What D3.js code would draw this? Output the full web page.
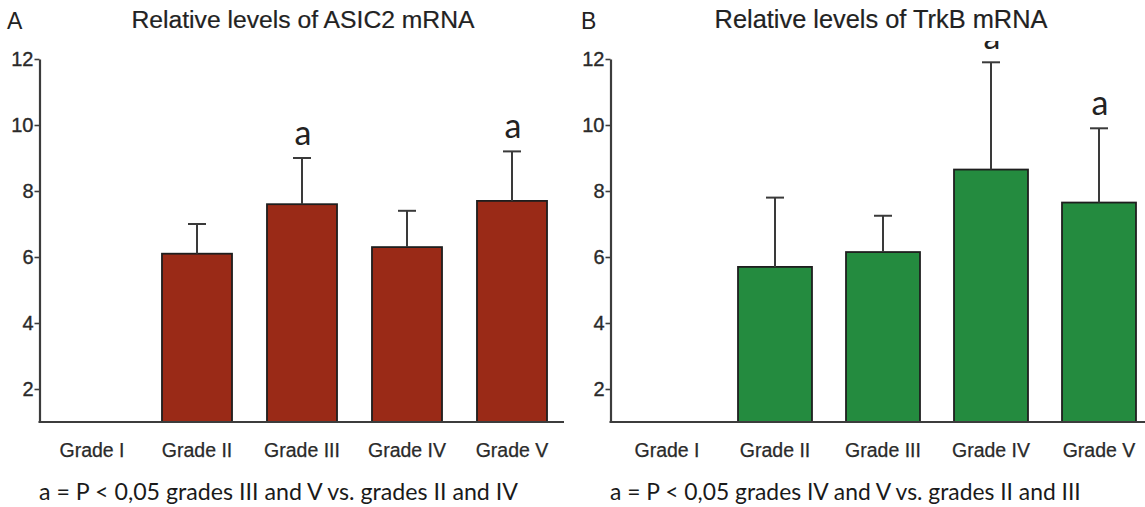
<!DOCTYPE html>
<html>
<head>
<meta charset="utf-8">
<script src="https://cdn.jsdelivr.net/npm/d3@7/dist/d3.min.js"></script>
<style>
  html, body { margin: 0; padding: 0; background: #fff; }
  svg { display: block; }
</style>
</head>
<body>
<svg id="chart" width="1145" height="507"></svg>
<script>
// ---- data ----
const categories = ["Grade I", "Grade II", "Grade III", "Grade IV", "Grade V"];
const yTicks = [2, 4, 6, 8, 10, 12];

const asic2Mean = [null, 6.1, 7.6, 6.3, 7.7];
const asic2Err  = [null, 0.9, 1.4, 1.1, 1.5];
const asic2Sig  = ["", "", "a", "", "a"];

const trkbMean = [null, 5.7, 6.15, 8.65, 7.65];
const trkbErr  = [null, 2.1, 1.1, 3.25, 2.25];
const trkbSig  = ["", "", "", "a", "a"];

const panelLetters = ["A", "B"];
const titles = ["Relative levels of ASIC2 mRNA", "Relative levels of TrkB mRNA"];
const footnotes = [
  "a = P < 0,05 grades III and V vs. grades II and IV",
  "a = P < 0,05 grades IV and V vs. grades II and III"
];

// ---- layout ----
const svg = d3.select("#chart");
const y = d3.scaleLinear().domain([1, 12]).range([422, 59]);

const panels = [
  { mean: asic2Mean, err: asic2Err, sig: asic2Sig, fill: "#9a2a17",
    axisX: 39.5, range: [39.5, 564.5], pad: 0.333, axisEnd: 564,
    letterX: 7, titleX: 303, titleW: 343, footX: 39, footW: 479, clipTop: null },
  { mean: trkbMean, err: trkbErr, sig: trkbSig, fill: "#248b3f",
    axisX: 610.5, range: [613, 1153], pad: 0.315, axisEnd: 1145,
    letterX: 581, titleX: 881, titleW: 333, footX: 610, footW: 471, clipTop: 41 }
];

const defs = svg.append("defs");

function fitText(sel, width) {
  const node = sel.node();
  const fs = parseFloat(sel.attr("font-size"));
  const w = node.getComputedTextLength();
  if (w > 0) sel.attr("font-size", (fs * width / w).toFixed(2));
}

panels.forEach((p, i) => {
  const g = svg.append("g");
  const x = d3.scaleBand().domain(categories).range(p.range).paddingInner(p.pad).paddingOuter(p.pad / 2);

  const data = categories.map((c, k) => ({ c, m: p.mean[k], e: p.err[k], s: p.sig[k] }))
                         .filter(d => d.m != null);

  // bars
  g.selectAll("rect.bar").data(data).join("rect")
    .attr("class", "bar")
    .attr("x", d => x(d.c))
    .attr("width", x.bandwidth())
    .attr("y", d => y(d.m))
    .attr("height", d => y(1) - y(d.m))
    .attr("fill", p.fill)
    .attr("stroke", "#1e1e1e")
    .attr("stroke-width", 1.8);

  // error bars
  const cap = 9;
  g.selectAll("line.err").data(data).join("line")
    .attr("class", "err")
    .attr("x1", d => x(d.c) + x.bandwidth() / 2)
    .attr("x2", d => x(d.c) + x.bandwidth() / 2)
    .attr("y1", d => y(d.m))
    .attr("y2", d => y(d.m + d.e))
    .attr("stroke", "#3a3a3a").attr("stroke-width", 2);
  g.selectAll("line.cap").data(data).join("line")
    .attr("class", "cap")
    .attr("x1", d => x(d.c) + x.bandwidth() / 2 - cap)
    .attr("x2", d => x(d.c) + x.bandwidth() / 2 + cap)
    .attr("y1", d => y(d.m + d.e))
    .attr("y2", d => y(d.m + d.e))
    .attr("stroke", "#3a3a3a").attr("stroke-width", 2);

  // significance letters
  let sigG = g.append("g");
  if (p.clipTop != null) {
    const id = "clip" + i;
    defs.append("clipPath").attr("id", id).append("rect")
      .attr("x", 0).attr("y", p.clipTop).attr("width", 1145).attr("height", 507);
    sigG.attr("clip-path", `url(#${id})`);
  }
  sigG.selectAll("text").data(data.filter(d => d.s)).join("text")
    .attr("x", d => x(d.c) + x.bandwidth() / 2 + 1)
    .attr("y", d => y(d.m + d.e) - 13)
    .attr("text-anchor", "middle")
    .attr("font-family", "Lato, 'Open Sans', sans-serif")
    .attr("font-size", 34)
    .attr("fill", "#222")
    .text(d => d.s);

  // y axis
  const yAxis = g.append("g")
    .attr("transform", `translate(${p.axisX},0)`)
    .call(d3.axisLeft(y).tickValues(yTicks).tickSize(5).tickSizeOuter(0).tickFormat(d3.format("d")));
  yAxis.select(".domain").attr("stroke", "#3c3c3c").attr("stroke-width", 2.2);
  yAxis.selectAll(".tick line").attr("stroke", "#3c3c3c").attr("stroke-width", 1.6);
  yAxis.selectAll(".tick text")
    .attr("font-family", "'Liberation Sans', Arial, sans-serif")
    .attr("font-size", 20).attr("fill", "#2a2a2a")
    .attr("stroke", "#2a2a2a").attr("stroke-width", 0.35)
    .attr("x", -6);

  // x axis
  const xAxis = g.append("g")
    .attr("transform", `translate(0,${y(1)})`)
    .call(d3.axisBottom(x).tickSize(0).tickPadding(21));
  xAxis.select(".domain").remove();
  xAxis.selectAll(".tick text")
    .attr("font-family", "'Liberation Sans', Arial, sans-serif")
    .attr("font-size", 19.5).attr("fill", "#2a2a2a")
    .attr("stroke", "#2a2a2a").attr("stroke-width", 0.25);
  g.append("line")
    .attr("x1", p.axisX - 1).attr("x2", p.axisEnd)
    .attr("y1", y(1)).attr("y2", y(1))
    .attr("stroke", "#3c3c3c").attr("stroke-width", 2.2);

  // panel letter
  g.append("text")
    .attr("x", p.letterX).attr("y", 29)
    .attr("font-family", "'Liberation Sans', Arial, sans-serif")
    .attr("font-size", 23).attr("fill", "#222")
    .text(panelLetters[i]);

  // title
  const t = g.append("text")
    .attr("x", p.titleX).attr("y", 28)
    .attr("text-anchor", "middle")
    .attr("font-family", "'Liberation Sans', Arial, sans-serif")
    .attr("font-size", 24).attr("fill", "#222")
    .attr("stroke", "#222").attr("stroke-width", 0.2)
    .text(titles[i]);
  fitText(t, p.titleW);

  // footnote
  const f = g.append("text")
    .attr("x", p.footX).attr("y", 500)
    .attr("font-family", "Lato, 'Open Sans', sans-serif")
    .attr("font-size", 20).attr("fill", "#1a1a1a")
    .text(footnotes[i]);
  fitText(f, p.footW);
});
</script>
</body>
</html>
